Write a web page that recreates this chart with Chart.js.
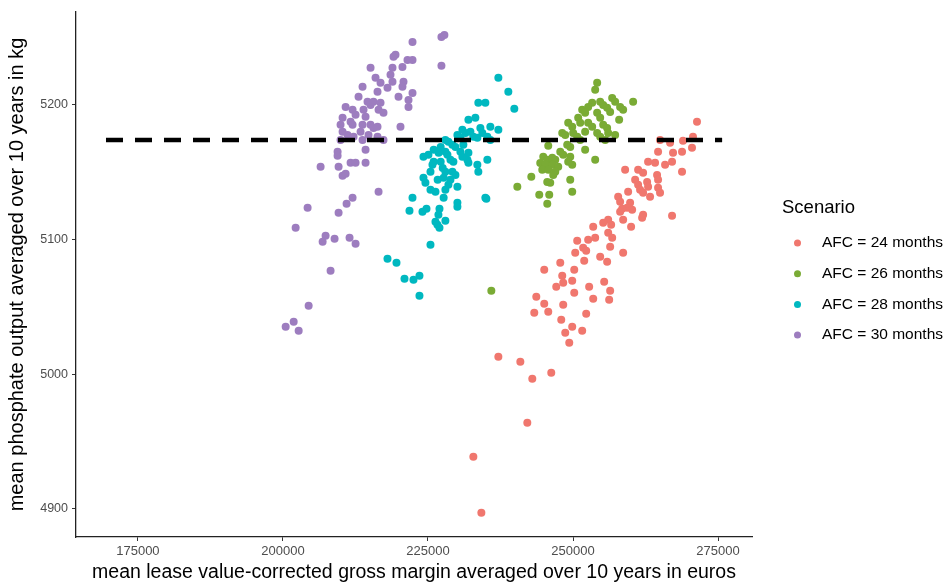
<!DOCTYPE html>
<html>
<head>
<meta charset="utf-8">
<script src="https://cdn.jsdelivr.net/npm/chart.js@4.4.1/dist/chart.umd.min.js"></script>
<style>
  html, body { margin: 0; padding: 0; background: #fff; }
  canvas { display: block; }
</style>
</head>
<body>
<canvas id="chart" width="949" height="583"></canvas>
<script>
// scenario names (legend order)
const scenarios = ['AFC = 24 months', 'AFC = 26 months', 'AFC = 28 months', 'AFC = 30 months'];
const colors = ['#F0776E', '#7AAB35', '#00B8C0', '#9D7DBF'];

const xTicks = [175000, 200000, 225000, 250000, 275000];
const yTicks = [4900, 5000, 5100, 5200];

// reference level (dashed line)
const refLevel = 5174;
const refFrom = 169500;
const refTo = 275700;

// [gross margin (euros), phosphate output (kg)]
const afc24 = [
  [271370,5187.4],[270680,5176.3],[268960,5173.3],[265000,5174.0],[266730,5171.8],[264660,5165.1],[267240,5164.4],
  [268790,5165.1],[270510,5168.1],[262940,5157.7],[264140,5157.0],[265870,5155.5],[267070,5157.7],[268790,5150.3],
  [258980,5151.8],[261220,5151.8],[262080,5149.5],[264490,5148.0],[264660,5144.3],[260710,5144.3],[261220,5140.6],
  [262770,5142.8],[262940,5139.1],[264660,5138.4],[261560,5136.9],[262080,5134.7],[259500,5135.4],[265000,5134.7],
  [263280,5131.7],[257780,5131.7],[258120,5128.0],[259840,5127.3],[259330,5123.5],[258470,5122.8],[258120,5120.6],
  [260190,5122.1],[262080,5118.3],[261910,5116.1],[258640,5114.6],[267070,5117.6],[256060,5114.6],[255200,5112.4],
  [253480,5109.4],[256570,5110.9],[260010,5109.4],[256060,5105.0],[256750,5101.3],[256400,5094.6],[250720,5099.0],
  [252610,5099.8],[253820,5101.3],[250380,5090.1],[251750,5093.8],[252270,5091.6],[251930,5084.2],[254680,5087.1],
  [255880,5083.4],[258640,5090.1],[247800,5082.7],[245040,5077.5],[250210,5077.5],[248140,5073.0],[248310,5067.8],
  [247110,5064.9],[249860,5069.3],[250210,5060.4],[252780,5064.9],[255370,5068.6],[256400,5061.9],[256230,5055.2],
  [253480,5056.0],[243670,5057.4],[245040,5052.2],[245730,5046.3],[243320,5045.6],[248310,5051.5],[252270,5044.8],
  [247970,5040.4],[249860,5035.2],[248660,5030.7],[251580,5032.2],[249350,5023.3],[237130,5012.9],[240920,5009.2],
  [242980,4996.5],[246250,5001.0],[242120,4963.9],[232820,4938.6],[234200,4897.0]
];

const afc26 = [
  [254160,5216.4],[253820,5211.2],[260360,5202.3],[256750,5205.2],[257260,5202.3],[254680,5202.3],[255200,5200.0],
  [253300,5201.5],[252610,5198.5],[258120,5198.5],[258640,5196.3],[251580,5196.3],[252090,5194.1],[255880,5197.8],
  [256400,5194.8],[254160,5194.1],[254680,5190.4],[250890,5190.4],[251240,5186.7],[249170,5186.7],[249860,5183.7],
  [257950,5188.9],[252610,5186.7],[253300,5183.7],[255200,5185.2],[255880,5182.9],[252090,5180.0],[248140,5179.2],
  [248660,5177.7],[250030,5179.2],[250720,5176.3],[254160,5179.2],[254680,5176.3],[256060,5179.2],[257260,5177.7],
  [255540,5174.0],[251240,5174.0],[249000,5170.3],[249520,5168.8],[245730,5169.6],[252090,5166.6],[247800,5165.1],
  [248310,5162.9],[249520,5161.4],[249170,5157.7],[244870,5161.4],[245560,5159.2],[246420,5160.7],[246940,5159.2],
  [253820,5159.2],[244350,5156.9],[245210,5155.5],[246420,5155.5],[247450,5154.0],[249860,5155.5],[244700,5151.8],
  [245730,5151.8],[246940,5150.3],[246590,5148.0],[242810,5146.6],[245560,5142.8],[246070,5142.1],[249520,5144.3],
  [249860,5135.4],[240400,5139.1],[244180,5133.2],[245900,5133.2],[245560,5126.5],[235920,5061.9]
];

const afc28 = [
  [237130,5220.1],[238850,5209.7],[239880,5197.1],[233680,5201.5],[234890,5201.5],[233170,5190.4],[231970,5188.9],
  [235750,5183.7],[237130,5181.5],[234030,5182.9],[234370,5179.2],[230930,5181.5],[231450,5179.2],[232310,5180.0],
  [230070,5177.7],[230590,5175.5],[232820,5176.3],[233510,5175.5],[235230,5176.3],[235750,5174.0],[228000,5174.0],
  [228520,5172.6],[229210,5170.3],[229730,5168.8],[231100,5170.3],[227190,5168.8],[225980,5166.6],[226840,5164.4],
  [228000,5165.1],[228350,5162.9],[230590,5165.1],[230930,5161.4],[231970,5164.4],[225080,5162.9],[224220,5161.4],
  [228870,5159.2],[229380,5157.7],[225980,5157.7],[225770,5155.5],[227190,5157.7],[231790,5159.2],[231970,5157.0],
  [235230,5159.2],[233510,5155.5],[233680,5150.3],[227540,5153.2],[228000,5150.3],[225430,5150.3],[229210,5150.3],
  [229730,5148.0],[224220,5145.8],[224560,5142.1],[226670,5144.3],[227700,5145.8],[228870,5144.3],[228520,5140.6],
  [225430,5136.9],[226290,5135.4],[228000,5136.9],[230070,5139.1],[222330,5131.0],[227700,5131.0],[230070,5127.3],
  [234890,5131.0],[221810,5121.3],[224050,5120.6],[224740,5122.8],[226980,5122.8],[226800,5118.3],[230070,5124.3],
  [226290,5113.1],[226630,5110.9],[228000,5113.9],[226980,5108.7],[225430,5096.1],[218020,5085.7],[219570,5082.7],
  [220950,5070.8],[222500,5070.1],[223530,5073.0],[223530,5058.2],[235060,5130.2]
];

const afc30 = [
  [227320,5250.5],[227830,5252.0],[222330,5246.8],[227320,5229.0],[219400,5237.2],[219060,5235.7],[221470,5233.4],
  [222330,5233.4],[220600,5228.2],[215100,5227.5],[218880,5227.5],[215960,5220.1],[216820,5216.4],[218540,5222.3],
  [218880,5217.1],[220780,5217.1],[220600,5213.4],[213720,5213.4],[218020,5212.7],[216300,5209.7],[222330,5208.9],
  [221640,5203.7],[221640,5198.5],[219920,5206.0],[213030,5206.0],[214580,5202.3],[215100,5200.0],[215610,5202.3],
  [216820,5201.5],[216480,5196.3],[210800,5198.5],[212000,5196.3],[212520,5192.6],[217330,5194.1],[213890,5196.3],
  [214240,5191.1],[210280,5190.4],[209930,5185.2],[210280,5180.0],[211660,5187.4],[212000,5185.2],[213720,5185.2],
  [213380,5180.0],[215100,5185.2],[215610,5182.9],[216300,5183.7],[220260,5183.7],[211140,5177.7],[212170,5176.3],
  [214750,5177.7],[216300,5176.3],[217330,5174.0],[209930,5174.0],[213720,5174.0],[209420,5165.1],[209420,5162.2],
  [214240,5166.6],[206490,5154.0],[209590,5154.0],[211660,5157.0],[212520,5157.0],[214240,5157.0],[210280,5147.3],
  [210800,5148.8],[216480,5135.4],[212000,5131.0],[210970,5126.5],[209590,5119.8],[204250,5123.5],[202190,5108.7],
  [207350,5102.7],[206840,5098.3],[208900,5100.5],[211480,5101.3],[212520,5096.8],[208210,5076.8],[204430,5050.8],
  [201850,5038.9],[200470,5035.2],[202710,5032.2]
];

const series = [afc24, afc26, afc28, afc30];
const FONT = '"Liberation Sans", Arial, sans-serif';

const pointSets = series.map((pts, i) => ({
  type: 'scatter',
  label: scenarios[i],
  data: pts.map(p => ({ x: p[0], y: p[1] })),
  backgroundColor: colors[i],
  borderWidth: 0,
  pointRadius: 4,
  order: 1
}));

const refLine = {
  type: 'line',
  label: 'ref',
  data: [{ x: refFrom, y: refLevel }, { x: refTo, y: refLevel }],
  borderColor: '#000',
  borderWidth: 4.5,
  borderDash: [17, 12],
  pointRadius: 0,
  fill: false,
  order: 0
};

// ggplot-style legend on the right
const legendPlugin = {
  id: 'sideLegend',
  afterDraw(chart) {
    const ctx = chart.ctx;
    ctx.save();
    ctx.textBaseline = 'middle';
    ctx.textAlign = 'left';
    ctx.fillStyle = '#000';
    ctx.font = '18.5px ' + FONT;
    ctx.fillText('Scenario', 782, 208);
    ctx.font = '15.5px ' + FONT;
    scenarios.forEach((s, i) => {
      const y = 243 + i * 30.7;
      ctx.fillStyle = colors[i];
      ctx.beginPath();
      ctx.arc(797.5, y, 3.5, 0, Math.PI * 2);
      ctx.fill();
      ctx.fillStyle = '#000';
      ctx.fillText(s, 822, y);
    });
    ctx.restore();
  }
};

new Chart(document.getElementById('chart'), {
  data: { datasets: [...pointSets, refLine] },
  options: {
    responsive: false,
    animation: false,
    layout: { padding: { top: 12, right: 197, left: 0, bottom: 0 } },
    plugins: { legend: { display: false }, tooltip: { enabled: false } },
    scales: {
      x: {
        type: 'linear',
        min: 164330,
        max: 280850,
        afterBuildTicks: s => { s.ticks = xTicks.map(v => ({ value: v })); },
        afterFit: s => { s.height = 46; },
        ticks: {
          color: '#4d4d4d',
          font: { family: FONT, size: 13 },
          padding: 3,
          maxRotation: 0,
          autoSkip: false,
          callback: v => String(v)
        },
        grid: { drawOnChartArea: false, drawTicks: true, tickLength: 4, color: '#333' },
        border: { display: true, color: '#222', width: 1.3 },
        title: {
          display: true,
          text: 'mean lease value-corrected gross margin averaged over 10 years in euros',
          color: '#000',
          font: { family: FONT, size: 19.5 },
          padding: { top: 0, bottom: -1 }
        }
      },
      y: {
        type: 'linear',
        min: 4879,
        max: 5269,
        afterBuildTicks: s => { s.ticks = yTicks.map(v => ({ value: v })); },
        afterFit: s => { s.width = 76; },
        ticks: {
          color: '#4d4d4d',
          font: { family: FONT, size: 12.5 },
          padding: 4,
          callback: v => String(v)
        },
        grid: { drawOnChartArea: false, drawTicks: true, tickLength: 4, color: '#333' },
        border: { display: true, color: '#222', width: 1.3 },
        title: {
          display: true,
          text: 'mean phosphate output averaged over 10 years in kg',
          color: '#000',
          font: { family: FONT, size: 20 },
          padding: { top: 5, bottom: 0 }
        }
      }
    }
  },
  plugins: [legendPlugin]
});
</script>
</body>
</html>
